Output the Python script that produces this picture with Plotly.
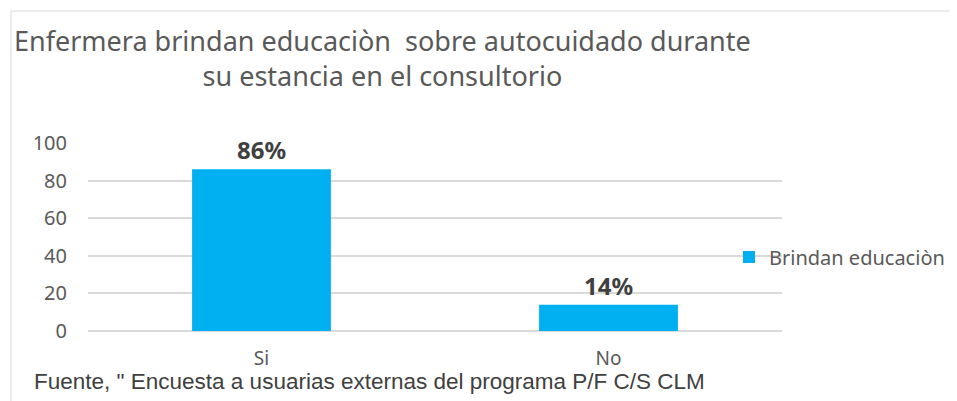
import plotly.graph_objects as go

categories = ["Si", "No"]
values = [86, 14]
labels = ["86%", "14%"]
series_name = "Brindan educaciòn"
title_lines = ["Enfermera brindan educaciòn  sobre autocuidado durante", "su estancia en el consultorio"]
source_text = "Fuente, \" Encuesta a usuarias externas del programa P/F C/S CLM"

OFF = 8  # default page body margin
W, H = 957 - OFF, 401 - OFF
# plot area in reference screen coords: x 88-782, y 143-331
L, R, T, B = 88 - OFF, W - (782 - OFF), 143 - OFF, H - (331 - OFF)
pw, ph = W - L - R, H - T - B

def px(x):
    return (x - OFF - L) / pw

def py(y):
    return (H - B - (y - OFF)) / ph

GRAY = "#595959"

fig = go.Figure()
fig.add_trace(go.Bar(
    x=categories, y=values, name=series_name,
    marker=dict(color="#00B0F0", line=dict(width=0)),
    text=labels, textposition="outside", cliponaxis=False,
    textfont=dict(family="Noto Sans", size=24, color="#404040", weight="bold"),
))

fig.update_layout(
    width=W, height=H,
    margin=dict(l=L, r=R, t=T, b=B, autoexpand=False),
    paper_bgcolor="white", plot_bgcolor="white",
    bargap=0.6,
    showlegend=True,
    legend=dict(x=px(729), y=py(257), xanchor="left", yanchor="middle",
                font=dict(family="Noto Sans", size=20, color=GRAY),
                itemwidth=30, bgcolor="rgba(0,0,0,0)"),
    xaxis=dict(showgrid=False, showline=False, ticks="", ticklabelstandoff=14,
               tickfont=dict(family="Noto Sans", size=19, color=GRAY)),
    yaxis=dict(range=[0, 100], dtick=20, showgrid=True, gridcolor="#D9D9D9", gridwidth=1.5,
               zeroline=True, zerolinecolor="#D9D9D9", zerolinewidth=1.5,
               showline=False, ticks="", ticklabelstandoff=20,
               tickfont=dict(family="Noto Sans", size=20, color=GRAY)),
    font=dict(family="Noto Sans"),
    shapes=[dict(type="rect", xref="paper", yref="paper",
                 x0=px(11), x1=px(970), y0=py(410), y1=py(11),
                 line=dict(color="#D9D9D9", width=1), fillcolor="rgba(0,0,0,0)", layer="below")],
    annotations=[
        dict(text="<br>".join(title_lines), xref="paper", yref="paper", x=px(382), y=py(58),
             xanchor="center", yanchor="middle", align="center", showarrow=False,
             font=dict(family="Noto Sans", size=27, color=GRAY)),
        dict(text=source_text, xref="paper", yref="paper", x=px(32), y=py(381),
             xanchor="left", yanchor="middle", showarrow=False,
             font=dict(family="Liberation Sans", size=22.5, color="#404040")),
    ],
)

fig.write_html("out.html")
